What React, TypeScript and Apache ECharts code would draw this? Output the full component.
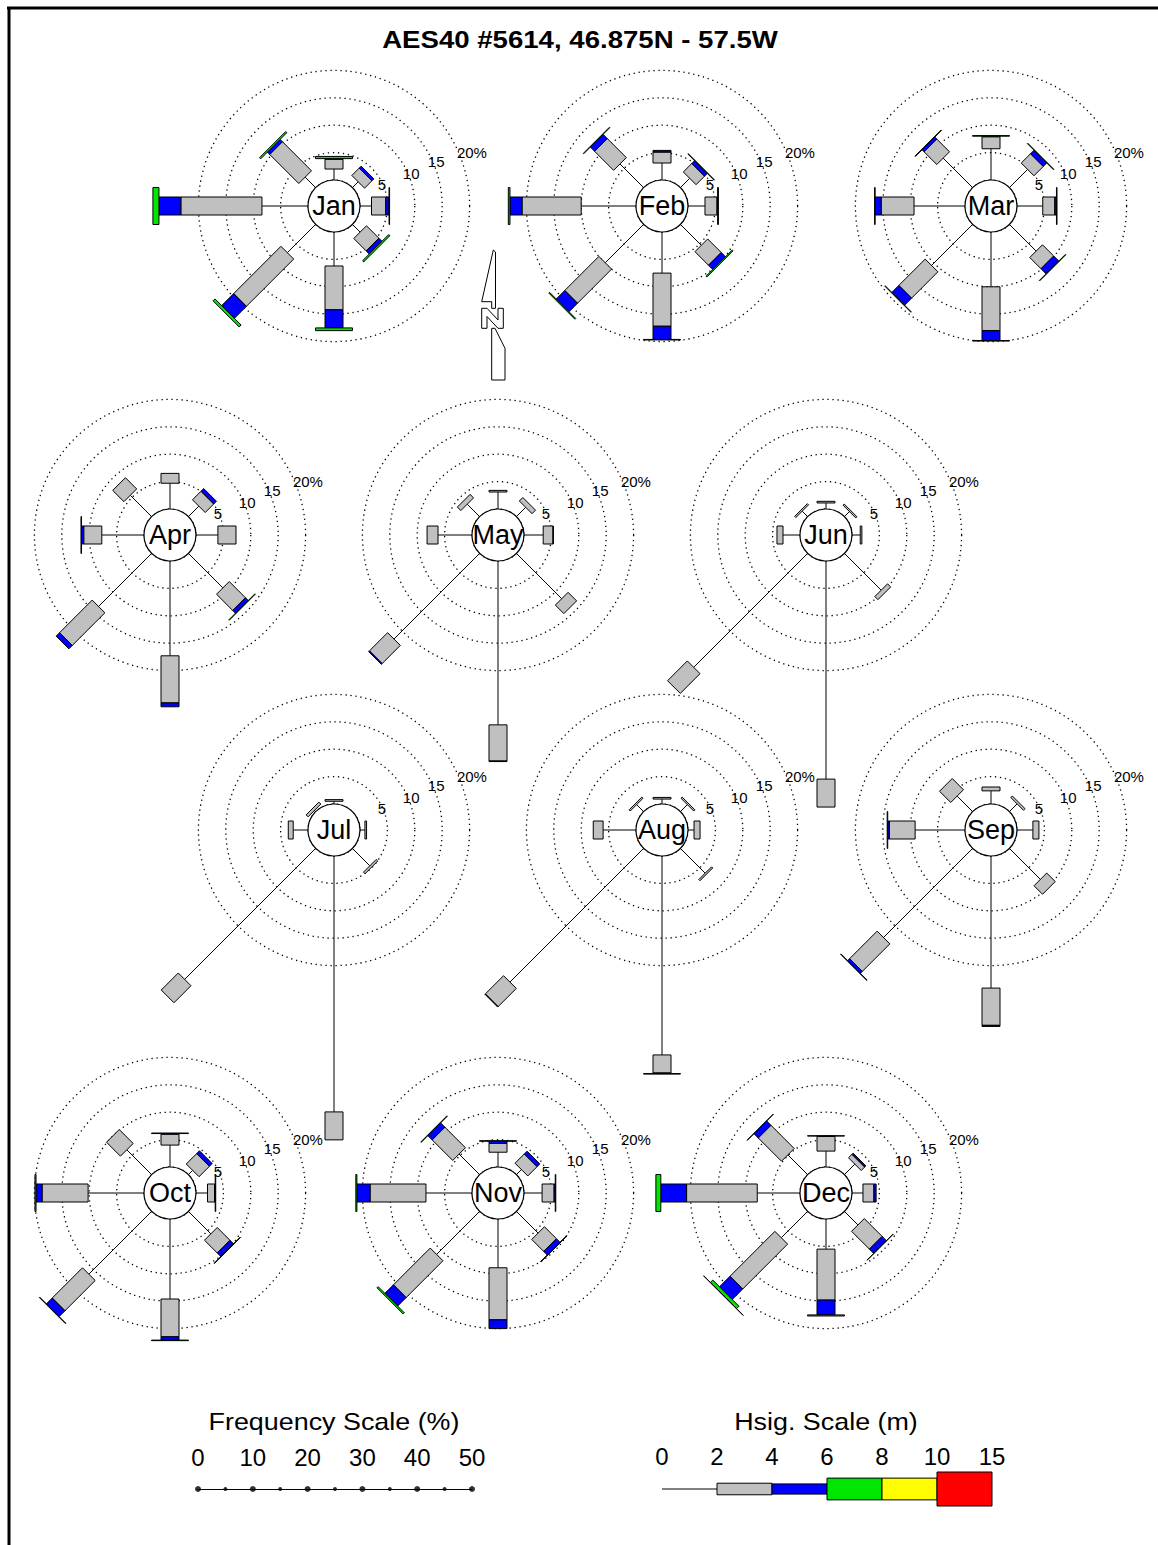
import React, { useEffect, useRef } from "react";
import * as echarts from "echarts";

const MONTHS = ["Jan", "Feb", "Mar", "Apr", "May", "Jun", "Jul", "Aug", "Sep", "Oct", "Nov", "Dec"];
// compass directions (deg, clockwise from north): N NE E SE S SW W NW
const DIRECTIONS = [0, 45, 90, 135, 180, 225, 270, 315];

// frequency (%) of each Hsig class, per month, per direction (N NE E SE S SW W NW)
const HS_0_2 = [
  [2.0, 1.5, 2.1, 2.0, 6.2, 7.3, 8.4, 2.7],
  [3.1, 2.4, 3.1, 5.4, 7.5, 9.9, 10.0, 6.1],
  [5.7, 4.7, 4.7, 6.9, 10.0, 10.6, 9.3, 7.6],
  [4.7, 2.7, 4.0, 8.9, 17.3, 13.7, 7.7, 5.5],
  [3.1, 2.4, 3.5, 11.7, 29.9, 22.1, 6.2, 3.2],
  [1.1, 1.3, 1.5, 9.5, 39.8, 29.4, 3.1, 1.4],
  [0.5, 0, 0.9, 4.5, 46.7, 33.8, 2.7, 0.3],
  [0.9, 1.8, 1.1, 6.4, 36.3, 34.5, 6.0, 1.8],
  [2.4, 2.0, 2.9, 8.0, 24.1, 23.0, 9.1, 4.0],
  [4.0, 1.1, 2.1, 5.8, 14.6, 16.2, 10.2, 6.4],
  [2.7, 1.3, 3.3, 5.6, 8.9, 11.1, 8.4, 5.3],
  [2.9, 2.7, 2.0, 3.5, 5.5, 6.8, 7.8, 5.1],
];
const HS_2_4 = [
  [1.8, 1.9, 2.6, 3.2, 8.0, 12.2, 14.8, 7.5],
  [2.0, 2.2, 2.2, 3.5, 9.7, 8.8, 10.8, 4.9],
  [2.2, 2.4, 2.2, 2.9, 8.0, 6.8, 6.0, 3.3],
  [1.8, 2.2, 3.3, 4.2, 8.6, 8.4, 3.3, 2.9],
  [0.3, 0.9, 1.8, 2.2, 6.6, 4.7, 2.0, 0.9],
  [0.3, 0.3, 0.3, 0.8, 5.1, 5.1, 1.1, 0.3],
  [0.3, 0, 0.3, 0.4, 5.1, 4.4, 0.9, 0.5],
  [0.3, 0.3, 1.1, 0.3, 3.3, 4.7, 1.8, 0.3],
  [0.7, 0.4, 1.1, 2.2, 6.8, 7.1, 4.7, 2.9],
  [2.0, 2.7, 1.3, 3.3, 6.9, 7.8, 8.4, 3.6],
  [1.6, 2.4, 2.2, 3.1, 9.5, 9.5, 10.2, 5.3],
  [2.7, 0.9, 2.0, 4.6, 9.3, 11.6, 12.9, 6.0],
];
const HS_4_6 = [
  [0.1, 0.5, 0.6, 0.8, 3.3, 3.1, 4.0, 0.6],
  [0.3, 0.7, 0.1, 1.1, 2.4, 2.2, 2.2, 1.1],
  [0.1, 0.9, 0.3, 1.3, 1.8, 1.8, 1.1, 0.5],
  [0, 0.7, 0, 0.7, 0.7, 0.9, 0.4, 0],
  [0, 0, 0.05, 0, 0.1, 0.2, 0, 0],
  [0, 0, 0, 0, 0, 0, 0, 0],
  [0, 0, 0, 0, 0, 0, 0, 0],
  [0, 0, 0, 0, 0.1, 0.1, 0, 0],
  [0, 0, 0, 0, 0.2, 0.5, 0.3, 0],
  [0.1, 0.7, 0.1, 0.9, 0.6, 1.5, 1.1, 0],
  [0.4, 0.7, 0.2, 0.9, 1.6, 2.2, 2.4, 1.1],
  [0.05, 0.3, 0.4, 1.1, 2.7, 2.7, 4.7, 1.1],
];
const HS_6_8 = [
  [0.4, 0, 0.1, 0.3, 0.5, 0.5, 1.1, 0.3],
  [0, 0.1, 0.15, 0.2, 0.1, 0.2, 0.3, 0.1],
  [0.1, 0.1, 0.1, 0.1, 0.1, 0.1, 0.1, 0.1],
  [0, 0, 0, 0.1, 0, 0, 0.1, 0],
  [0, 0, 0, 0, 0, 0, 0, 0],
  [0, 0, 0, 0, 0, 0, 0, 0],
  [0, 0, 0, 0, 0, 0, 0, 0],
  [0, 0, 0, 0, 0.1, 0, 0, 0],
  [0, 0, 0, 0, 0, 0.1, 0.1, 0],
  [0.1, 0, 0.1, 0.1, 0.1, 0.1, 0.2, 0],
  [0.1, 0, 0.1, 0.1, 0, 0.3, 0.2, 0.1],
  [0.05, 0, 0, 0.05, 0.2, 0.6, 0.9, 0.05],
];
const HS_8_10 = [
  [0, 0, 0, 0, 0, 0, 0, 0], [0, 0, 0, 0, 0, 0, 0, 0], [0, 0, 0, 0, 0, 0, 0, 0],
  [0, 0, 0, 0, 0, 0, 0, 0], [0, 0, 0, 0, 0, 0, 0, 0], [0, 0, 0, 0, 0, 0, 0, 0],
  [0, 0, 0, 0, 0, 0, 0, 0], [0, 0, 0, 0, 0, 0, 0, 0], [0, 0, 0, 0, 0, 0, 0, 0],
  [0, 0, 0, 0, 0, 0, 0, 0], [0, 0, 0, 0, 0, 0, 0, 0], [0, 0, 0, 0, 0, 0, 0, 0],
];
const HS_10_15 = [
  [0, 0, 0, 0, 0, 0, 0, 0], [0, 0, 0, 0, 0, 0, 0, 0], [0, 0, 0, 0, 0, 0, 0, 0],
  [0, 0, 0, 0, 0, 0, 0, 0], [0, 0, 0, 0, 0, 0, 0, 0], [0, 0, 0, 0, 0, 0, 0, 0],
  [0, 0, 0, 0, 0, 0, 0, 0], [0, 0, 0, 0, 0, 0, 0, 0], [0, 0, 0, 0, 0, 0, 0, 0],
  [0, 0, 0, 0, 0, 0, 0, 0], [0, 0, 0, 0, 0, 0, 0, 0], [0, 0, 0, 0, 0, 0.05, 0, 0],
];

const RING_TICKS = [5, 10, 15, 20];
const RING_LABELS = ["5", "10", "15", "20%"];
const FREQ_MAJOR = [0, 10, 20, 30, 40, 50];
const FREQ_MINOR = [5, 15, 25, 35, 45];
const HSIG_TICKS = ["0", "2", "4", "6", "8", "10", "15"];
const HSIG_CLASSES = [0, 1, 2, 3, 4, 5];

const TITLE = "AES40 #5614, 46.875N - 57.5W";

// layout / style
const ROSE_CX = [334, 662, 991, 170, 498, 826, 334, 662, 991, 170, 498, 826];
const ROSE_CY = [206, 206, 206, 535, 535, 535, 830, 830, 830, 1193, 1193, 1193];
const HUB_R = 26;
const PX_PER_PCT = 5.48;
const CLASS_COLORS = ["#000", "#c0c0c0", "#0000ff", "#00e600", "#ffff00", "#ff0000"];
const CLASS_HALF_W = [0, 9, 9, 18.5, 18.5, 28];
const LEGEND_HALF = [0, 0.34, 0.3, 0.64, 0.64, 1.0];
const FONT = "Liberation Sans, Arial, sans-serif";

function makeRoseRender(mi: number) {
  return function (params: any, api: any) {
    const ang = api.value(1);
    const f = [2, 3, 4, 5, 6, 7].map((k) => api.value(k) || 0);
    const total = f.reduce((a: number, b: number) => a + b, 0);
    const children: any[] = [];
    if (total > 0) {
      const p0 = api.coord([0, ang]);
      const p1 = api.coord([10, ang]);
      const len = Math.hypot(p1[0] - p0[0], p1[1] - p0[1]);
      const ux = (p1[0] - p0[0]) / len;
      const uy = (p1[1] - p0[1]) / len;
      const nx = -uy;
      const ny = ux;
      let acc = f[0];
      const pe = api.coord([acc, ang]);
      children.push({
        type: "line",
        shape: { x1: p0[0], y1: p0[1], x2: pe[0], y2: pe[1] },
        style: { stroke: "#000", lineWidth: 1 },
      });
      for (let k = 1; k < 6; k++) {
        if (f[k] > 0) {
          const a = api.coord([acc, ang]);
          const b = api.coord([acc + f[k], ang]);
          const w = CLASS_HALF_W[k];
          children.push({
            type: "polygon",
            shape: {
              points: [
                [a[0] + nx * w, a[1] + ny * w],
                [b[0] + nx * w, b[1] + ny * w],
                [b[0] - nx * w, b[1] - ny * w],
                [a[0] - nx * w, a[1] - ny * w],
              ],
            },
            style: { fill: CLASS_COLORS[k], stroke: "#000", lineWidth: 1 },
          });
          acc += f[k];
        }
      }
    }
    if (params.dataIndex === 0) {
      const cs = params.coordSys;
      children.push({
        type: "circle",
        shape: { cx: cs.cx, cy: cs.cy, r: cs.r0 },
        style: { fill: "#fff", stroke: "#000", lineWidth: 1.2 },
      });
      children.push({
        type: "text",
        x: cs.cx,
        y: cs.cy,
        style: {
          text: MONTHS[mi],
          fontSize: 27,
          fontFamily: FONT,
          fill: "#000",
          textAlign: "center",
          textVerticalAlign: "middle",
        },
      });
      RING_TICKS.forEach((v, j) => {
        const pt = api.coord([v, 66]);
        children.push({
          type: "text",
          x: pt[0] - 5 + (v === 20 ? 4 : 0),
          y: pt[1] + (v === 20 ? 2 : 0),
          style: {
            text: RING_LABELS[j],
            fontSize: 15,
            fontFamily: FONT,
            fill: "#000",
            textAlign: "left",
            textVerticalAlign: "middle",
          },
        });
      });
    }
    return { type: "group", children };
  };
}

function hsigRender(params: any, api: any) {
  const k = api.value(0);
  const a = api.coord([k, 0]);
  const b = api.coord([k + 1, 0]);
  if (k === 0) {
    return {
      type: "line",
      shape: { x1: a[0], y1: a[1], x2: b[0], y2: b[1] },
      style: { stroke: "#000", lineWidth: 1 },
    };
  }
  const h = api.size([0, LEGEND_HALF[k]])[1];
  return {
    type: "rect",
    shape: { x: a[0], y: a[1] - h, width: b[0] - a[0], height: 2 * h },
    style: { fill: CLASS_COLORS[k], stroke: "#000", lineWidth: 1 },
  };
}

function buildOption() {
  const polar = MONTHS.map((_, i) => ({
    center: [ROSE_CX[i], ROSE_CY[i]],
    radius: [HUB_R, HUB_R + 20 * PX_PER_PCT],
  }));
  const radiusAxis = MONTHS.map((_, i) => ({
    polarIndex: i,
    type: "value",
    min: 0,
    max: 20,
    interval: 5,
    axisLine: { show: false },
    axisTick: { show: false },
    axisLabel: { show: false },
    splitArea: { show: false },
    splitLine: { show: true, lineStyle: { color: "#000", width: 1.3, type: [1.3, 3.7] } },
  }));
  const angleAxis = MONTHS.map((_, i) => ({
    polarIndex: i,
    type: "value",
    min: 0,
    max: 360,
    startAngle: 90,
    clockwise: true,
    axisLine: { show: false },
    axisTick: { show: false },
    axisLabel: { show: false },
    splitLine: { show: false },
    splitArea: { show: false },
  }));
  const roseSeries = MONTHS.map((m, i) => ({
    type: "custom",
    name: m,
    coordinateSystem: "polar",
    polarIndex: i,
    silent: true,
    clip: false,
    data: DIRECTIONS.map((d, j) => [
      0,
      d,
      HS_0_2[i][j],
      HS_2_4[i][j],
      HS_4_6[i][j],
      HS_6_8[i][j],
      HS_8_10[i][j],
      HS_10_15[i][j],
    ]),
    renderItem: makeRoseRender(i),
  }));

  return {
    animation: false,
    backgroundColor: "#fff",
    textStyle: { fontFamily: FONT },
    polar,
    radiusAxis,
    angleAxis,
    grid: [
      { left: 198, top: 1489, width: 274, height: 10 },
      { left: 662, top: 1472, width: 330, height: 34 },
    ],
    xAxis: [
      {
        gridIndex: 0,
        type: "value",
        min: 0,
        max: 50,
        interval: 10,
        position: "top",
        axisLine: { show: true, onZero: false, lineStyle: { color: "#000", width: 1 } },
        axisTick: { show: false },
        splitLine: { show: false },
        axisLabel: { fontSize: 24, color: "#000", margin: 20, fontFamily: FONT, showMinLabel: true, showMaxLabel: true },
      },
      {
        gridIndex: 1,
        type: "category",
        data: HSIG_TICKS,
        boundaryGap: false,
        position: "top",
        axisLine: { show: false, onZero: false },
        axisTick: { show: false },
        splitLine: { show: false },
        axisLabel: { fontSize: 24, color: "#000", margin: 4, interval: 0, fontFamily: FONT },
      },
    ],
    yAxis: [
      { gridIndex: 0, type: "value", min: 0, max: 1, show: false },
      { gridIndex: 1, type: "value", min: -1, max: 1, show: false },
    ],
    series: [
      ...roseSeries,
      {
        type: "scatter",
        xAxisIndex: 0,
        yAxisIndex: 0,
        symbol: "circle",
        symbolSize: 6,
        silent: true,
        itemStyle: { color: "#000" },
        data: FREQ_MAJOR.map((v) => [v, 1]),
      },
      {
        type: "scatter",
        xAxisIndex: 0,
        yAxisIndex: 0,
        symbol: "circle",
        symbolSize: 4,
        silent: true,
        itemStyle: { color: "#000" },
        data: FREQ_MINOR.map((v) => [v, 1]),
      },
      {
        type: "custom",
        xAxisIndex: 1,
        yAxisIndex: 1,
        silent: true,
        clip: false,
        data: HSIG_CLASSES.map((k) => [k, 0]),
        renderItem: hsigRender,
      },
    ],
    graphic: [
      { type: "line", shape: { x1: 7, y1: 8, x2: 1158, y2: 8 }, style: { stroke: "#000", lineWidth: 3 } },
      { type: "line", shape: { x1: 9, y1: 7, x2: 9, y2: 1545 }, style: { stroke: "#000", lineWidth: 3 } },
      {
        type: "text",
        x: 580,
        y: 40,
        scaleX: 1.2,
        style: {
          text: TITLE,
          fontSize: 23,
          fontWeight: "bold",
          fontFamily: FONT,
          fill: "#000",
          textAlign: "center",
          textVerticalAlign: "middle",
        },
      },
      {
        type: "text",
        x: 334,
        y: 1422,
        scaleX: 1.12,
        style: {
          text: "Frequency Scale (%)",
          fontSize: 24,
          fontFamily: FONT,
          fill: "#000",
          textAlign: "center",
          textVerticalAlign: "middle",
        },
      },
      {
        type: "text",
        x: 826,
        y: 1422,
        scaleX: 1.12,
        style: {
          text: "Hsig. Scale (m)",
          fontSize: 24,
          fontFamily: FONT,
          fill: "#000",
          textAlign: "center",
          textVerticalAlign: "middle",
        },
      },
      {
        type: "polygon",
        shape: { points: [[493.3, 250], [481.7, 301.7], [491.7, 301.7], [491.7, 308.3], [495.5, 308.3], [495.5, 252]] },
        style: { fill: "#fff", stroke: "#000", lineWidth: 1 },
      },
      {
        type: "polygon",
        shape: {
          points: [
            [481.7, 308.3], [487, 308.3], [498, 320], [498, 308.3], [503.3, 308.3],
            [503.3, 328.3], [498, 328.3], [487, 316.5], [487, 328.3], [481.7, 328.3],
          ],
        },
        style: { fill: "#fff", stroke: "#000", lineWidth: 1 },
      },
      {
        type: "polygon",
        shape: { points: [[491.7, 328.3], [491.7, 380], [505, 380], [505, 348.3], [495, 328.3]] },
        style: { fill: "#fff", stroke: "#000", lineWidth: 1 },
      },
    ],
  };
}

export default function App() {
  const ref = useRef<HTMLDivElement>(null);
  useEffect(() => {
    if (!ref.current) return;
    const chart = echarts.init(ref.current, undefined, { renderer: "svg" });
    chart.setOption(buildOption() as any);
    return () => chart.dispose();
  }, []);
  return (
    <div
      ref={ref}
      style={{ position: "absolute", left: 0, top: 0, width: 1158, height: 1545, background: "#fff" }}
    />
  );
}
